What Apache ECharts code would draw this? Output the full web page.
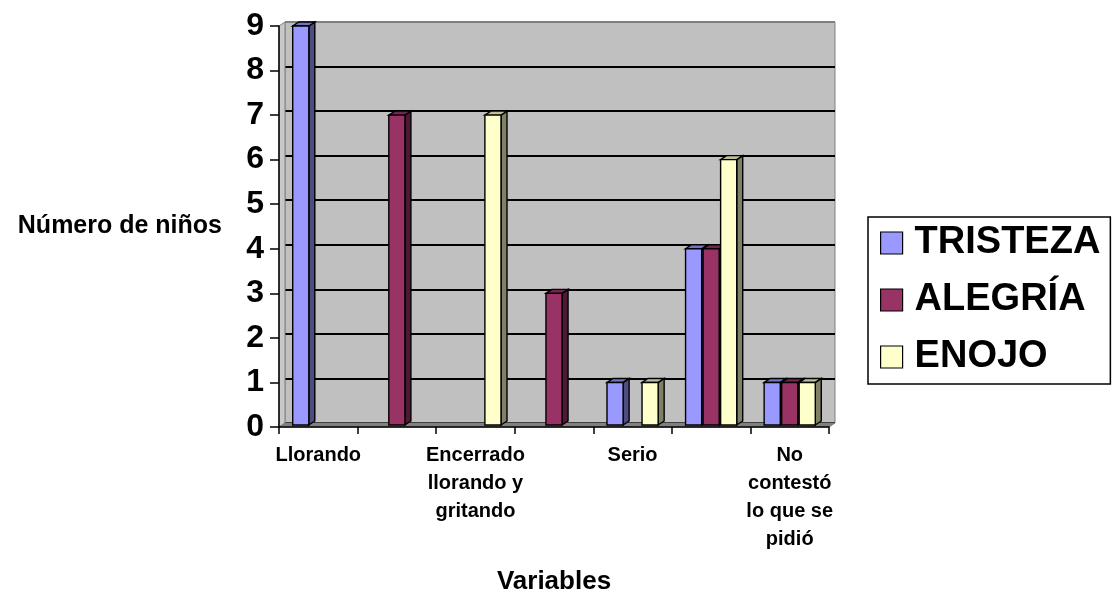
<!DOCTYPE html>
<html>
<head>
<meta charset="utf-8">
<script src="https://cdn.jsdelivr.net/npm/echarts@6/dist/echarts.min.js"></script>
<style>
html,body{margin:0;padding:0;background:#fff;}
#chart{width:1115px;height:590px;}
</style>
</head>
<body>
<div id="chart"></div>
<script>
// ---- data ----
const categories = ["Llorando", "", "Encerrado\nllorando y\ngritando", "", "Serio", "", "No\ncontestó\nlo que se\npidió"];
const seriesNames = ["TRISTEZA", "ALEGRÍA", "ENOJO"];
const tristeza = [9, 0, 0, 0, 1, 4, 1];
const alegria  = [0, 7, 0, 3, 0, 4, 1];
const enojo    = [0, 0, 7, 0, 1, 6, 1];
const yTicks = [0, 1, 2, 3, 4, 5, 6, 7, 8, 9];

// ---- style ----
const FONT = '"Liberation Sans", Arial, sans-serif';
const G = {left: 279, right: 286, top: 26, bottom: 163};
const DX = 6, DY = 4;
const palette = [
  {front: '#9999ff', side: '#4d4d80', top: '#7373bf'},
  {front: '#993366', side: '#4d1a33', top: '#73264d'},
  {front: '#ffffcc', side: '#808066', top: '#bfbf99'}
];
const seriesData = [tristeza, alegria, enojo];
const yMax = yTicks[yTicks.length - 1];

function barRenderer(si) {
  return function (params, api) {
    const ci = api.value(0), v = api.value(1);
    if (!v) return;
    const band = api.size([1, 0])[0];
    const slot = band * 0.223, w = band * 0.205;
    const topPt = api.coord([ci, v]);
    const basePt = api.coord([ci, 0]);
    const cx = topPt[0] + (si - 1) * slot;
    const x0 = cx - w / 2, x1 = cx + w / 2;
    const yT = topPt[1], yB = basePt[1] - 2;
    const c = palette[si];
    const stroke = {stroke: '#000', lineWidth: 1.4};
    return {
      type: 'group',
      children: [
        {type: 'polygon', shape: {points: [[x1, yB], [x1, yT], [x1 + DX, yT - DY], [x1 + DX, yB - DY]]},
          style: Object.assign({fill: c.side}, stroke)},
        {type: 'polygon', shape: {points: [[x0, yT], [x1, yT], [x1 + DX, yT - DY], [x0 + DX, yT - DY]]},
          style: Object.assign({fill: c.top}, stroke)},
        {type: 'rect', shape: {x: x0, y: yT, width: w, height: yB - yT},
          style: Object.assign({fill: c.front}, stroke)}
      ]
    };
  };
}

function frameRenderer(params, api) {
  const band = api.size([1, 0])[0];
  const c0 = api.coord([0, 0]);
  const cTop = api.coord([0, yMax]);
  const cN = api.coord([categories.length - 1, 0]);
  const xL = c0[0] - band / 2, xR = cN[0] + band / 2;
  const yB = c0[1], yT = cTop[1];
  return {
    type: 'group',
    children: [
      {type: 'polygon', shape: {points: [[xL, yB], [xL, yT], [xL + DX, yT - DY], [xL + DX, yB - DY]]},
        style: {fill: '#c8c8c8', stroke: '#808080', lineWidth: 1}},
      {type: 'polygon', shape: {points: [[xL, yB], [xL + DX, yB - DY], [xR + DX, yB - DY], [xR, yB]]},
        style: {fill: '#808080', stroke: '#808080', lineWidth: 1}}
    ]
  };
}

const splitColors = yTicks.map((t, i) => i === yTicks.length - 1 ? '#808080' : '#000');

const series = [
  {type: 'custom', name: 'frame', xAxisIndex: 0, yAxisIndex: 0, z: 1, silent: true,
    renderItem: frameRenderer, data: [[0, 0]]}
];
seriesNames.forEach((name, si) => {
  series.push({
    type: 'custom', name: name, xAxisIndex: 0, yAxisIndex: 0, z: 3,
    itemStyle: {color: palette[si].front},
    renderItem: barRenderer(si),
    encode: {x: 0, y: 1},
    data: seriesData[si].map((v, i) => [i, v])
  });
});

const chart = echarts.init(document.getElementById('chart'), null, {renderer: 'canvas'});
chart.setOption({
  animation: false,
  backgroundColor: '#fff',
  textStyle: {fontFamily: FONT},
  grid: [
    {left: G.left, right: G.right, top: G.top, bottom: G.bottom, show: false,
      containLabel: false, outerBoundsMode: 'none'},
    {left: G.left + DX, right: G.right - DX, top: G.top - DY, bottom: G.bottom + DY,
      containLabel: false, outerBoundsMode: 'none',
      show: true, backgroundColor: '#c0c0c0', borderColor: '#808080', borderWidth: 1, z: 0}
  ],
  legend: {
    data: seriesNames,
    orient: 'vertical',
    left: 868, top: 217,
    padding: [6, 10, 7, 12],
    itemGap: 17,
    itemWidth: 22, itemHeight: 22,
    icon: 'rect',
    backgroundColor: '#fff',
    borderColor: '#000', borderWidth: 1.5,
    itemStyle: {borderColor: '#000', borderWidth: 1.2},
    textStyle: {fontFamily: FONT, fontSize: 38, fontWeight: 'bold', color: '#000', lineHeight: 40, padding: [0, 0, 0, 7]}
  },
  xAxis: [
    {type: 'category', gridIndex: 0, data: categories,
      name: 'Variables', nameLocation: 'middle', nameGap: 142,
      nameTextStyle: {fontFamily: FONT, fontSize: 26, fontWeight: 'bold', color: '#000'},
      axisLine: {show: true, lineStyle: {color: '#000', width: 1.5}},
      axisTick: {show: true, interval: 0, length: 7, lineStyle: {color: '#000', width: 1.5}},
      axisLabel: {interval: 0, margin: 14, fontFamily: FONT, fontSize: 20, fontWeight: 'bold', color: '#000', lineHeight: 28},
      splitLine: {show: false}, z: 5},
    {type: 'value', gridIndex: 1, show: false, min: 0, max: 1, splitLine: {show: false}}
  ],
  yAxis: [
    {type: 'value', gridIndex: 0, min: yTicks[0], max: yMax, interval: 1,
      name: 'Número de niños', nameLocation: 'middle', nameRotate: 0, nameGap: 57,
      nameTextStyle: {fontFamily: FONT, fontSize: 25, fontWeight: 'bold', color: '#000', align: 'right'},
      axisLine: {show: true, lineStyle: {color: '#000', width: 1.5}},
      axisTick: {show: true, length: 9, lineStyle: {color: '#000', width: 1.5}},
      axisLabel: {margin: 15, fontFamily: FONT, fontSize: 32, fontWeight: 'bold', color: '#000'},
      splitLine: {show: false}, z: 5},
    {type: 'value', gridIndex: 1, min: yTicks[0], max: yMax, interval: 1,
      axisLine: {show: false}, axisTick: {show: false}, axisLabel: {show: false},
      splitLine: {show: true, lineStyle: {color: splitColors, width: 2}}}
  ],
  series: series
});
</script>
</body>
</html>
